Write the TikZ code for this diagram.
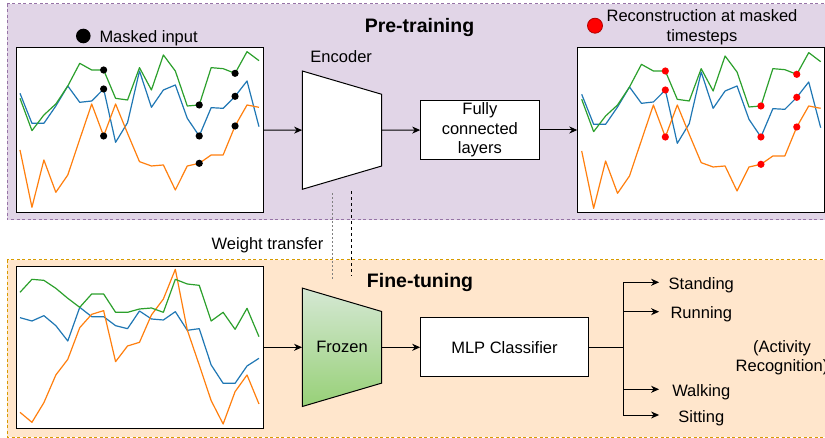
\documentclass[tikz,border=0pt]{standalone}
\usepackage{fontspec}
\setmainfont{Liberation Sans}
\usetikzlibrary{arrows.meta}

\definecolor{tsblue}{HTML}{1F77B4}
\definecolor{tsorange}{HTML}{FF7F0E}
\definecolor{tsgreen}{HTML}{2CA02C}
\definecolor{prefill}{HTML}{E1D5E7}
\definecolor{preline}{HTML}{9673A6}
\definecolor{finefill}{HTML}{FFE6CC}
\definecolor{fineline}{HTML}{D79B00}
\definecolor{frztop}{HTML}{D5E8D4}
\definecolor{frzbot}{HTML}{97D077}
\definecolor{recred}{HTML}{FF0000}

\tikzset{
  series/.style={line width=1.2pt,line join=round},
  tsbox/.style={draw,fill=white,line width=1pt,minimum width=247,minimum height=165,inner sep=0},
  block/.style={draw,fill=white,line width=1pt,align=center,inner sep=0},
  arr/.style={-{Stealth[length=8pt,width=7pt,inset=2.5pt]},line width=1pt},
  title/.style={font=\bfseries\fontsize{19.5}{23}\selectfont,anchor=base,inner sep=0},
  cls/.style={minimum width=84,inner sep=0,text height=14pt,text depth=0pt},
}

\newcommand{\tsseries}[3]{%
  \foreach \v [count=\i from 0] in #3 \coordinate (#2\i) at ({60+35.85*\i},\v);
  \draw[series,#1] (#20) \foreach \i in {1,...,20} {-- (#2\i)};}

\begin{document}
\begin{tikzpicture}[x=1pt,y=-1pt,font=\fontsize{16.5}{19.5}\selectfont]
  \useasboundingbox (0,0) rectangle (825,438);
  \def\greenA{295,392,345,312,258,190,210,210,295,300,203,270,165,213,318,315,203,206,220,155,182}
  \def\blueA{280,370,370,318,258,307,303,267,427,368,213,322,270,255,355,408,323,325,289,243,380}
  \def\orangeA{450,622,480,577,525,418,312,408,312,400,485,498,495,570,498,490,465,465,378,315,322}
  \def\greenB{127,88,91,115,145,172,132,132,187,187,177,174,187,88,102,106,213,187,238,175,260}
  \def\blueB{203,213,197,227,273,172,200,200,227,236,183,207,210,185,241,236,345,400,400,348,325}
  \def\orangeB{487,517,458,375,328,233,193,182,335,288,277,195,147,58,240,345,452,522,425,375,462}
  % stage backgrounds
  \draw[fill=prefill,draw=preline,dash pattern=on 3pt off 2.5pt,line width=1pt] (7,4) rectangle (840,220);
  \draw[fill=finefill,draw=fineline,dash pattern=on 3pt off 2.5pt,line width=1pt] (7,260) rectangle (840,437);
  \node[title] (pretitle) at (419.5,32.3) {Pre-training};
  \node[title] (finetitle) at (420,287.7) {Fine-tuning};
  % legends
  \node[circle,fill=black,minimum size=14.6,inner sep=0] (maskdot) at (83.3,36) {};
  \node[anchor=base west,inner sep=0] (masklbl) at (99.3,42.7) {Masked input};
  \node[circle,fill=recred,draw=recred!70!black,line width=0.8pt,minimum size=15,inner sep=0] (recdot) at (595,25.7) {};
  \node[align=center,inner sep=0] (reclbl) at (702,27) {Reconstruction at masked\\timesteps};
  % pre-training
  \node[tsbox] (inTS) at (140.2,130) {};
  \node[tsbox] (recTS) at (701.3,130) {};
  \draw[fill=white,line width=1pt] (302.3,71) -- (381.7,94.3) -- (381.7,166) -- (302.3,189.3) -- cycle;
  \node[minimum width=79.4,minimum height=118.3,inner sep=0] (enc) at (342,130.15) {};
  \node[anchor=base,inner sep=0] (enclbl) at (341.2,62.3) {Encoder};
  \node[block,minimum width=118.3,minimum height=59.3] (fc) at (479.85,130) {Fully\\connected\\layers};
  \draw[arr] (inTS) -- (enc);
  \draw[arr] (enc) -- (fc);
  \draw[arr] (fc) -- (recTS);
  \begin{scope}[x=0.3333pt,y=-0.3333pt]
    \tsseries{tsblue}{inB}{\blueA}
    \tsseries{tsorange}{inO}{\orangeA}
    \tsseries{tsgreen}{inG}{\greenA}
    \foreach \k in {7,15,18} {\fill (inG\k) circle (3.6pt) (inB\k) circle (3.6pt) (inO\k) circle (3.6pt);}
  \end{scope}
  \begin{scope}[shift={(561.7,1)},x=0.3333pt,y=-0.3333pt]
    \tsseries{tsblue}{recB}{\blueA}
    \tsseries{tsorange}{recO}{\orangeA}
    \tsseries{tsgreen}{recG}{\greenA}
    \foreach \k in {7,15,18} {\fill[recred] (recG\k) circle (3.6pt) (recB\k) circle (3.6pt) (recO\k) circle (3.6pt);}
  \end{scope}
  % weight transfer
  \node[anchor=base,inner sep=0] (wtlbl) at (267.5,249.3) {Weight transfer};
  % fine-tuning
  \node[tsbox,minimum height=162] (ftTS) at (139.9,347.3) {};
  \shadedraw[top color=frztop,bottom color=frzbot,line width=1pt] (302.3,288.1) -- (381.7,311.5) -- (381.7,383.1) -- (302.3,406.5) -- cycle;
  \node[minimum width=79.4,minimum height=118.4,inner sep=0] (frz) at (342,347.3) {Frozen};
  \node[block,minimum width=167.6,minimum height=59] (mlp) at (504.5,347.3) {MLP Classifier};
  \begin{scope}[shift={(0,250)},x=0.3333pt,y=-0.3333pt]
    \tsseries{tsblue}{ftB}{\blueB}
    \tsseries{tsorange}{ftO}{\orangeB}
    \tsseries{tsgreen}{ftG}{\greenB}
  \end{scope}
  \draw[dash pattern=on 2pt off 2pt,gray,line width=1pt] ([xshift=-10pt,yshift=-3.7pt]enc.south) -- ([xshift=-10pt,yshift=9pt]frz.north);
  \draw[dash pattern=on 3pt off 3pt,line width=0.9pt] ([xshift=9.7pt,yshift=-1.7pt]enc.south) -- ([xshift=9.7pt,yshift=11.4pt]frz.north);
  \draw[arr] (ftTS) -- (frz);
  \draw[arr] (frz) -- (mlp);
  \coordinate (split) at (623.3,347.3);
  \node[cls] (standing) at (701.3,282.3) {Standing};
  \node[cls] (running) at (701.3,311.7) {Running};
  \node[cls] (walking) at (701.3,389.3) {Walking};
  \node[cls] (sitting) at (701.3,415) {Sitting};
  \node[align=center,inner sep=0] (actlbl) at (782,357.5) {(Activity\\Recognition)};
  \draw[line width=1pt] (mlp) -- (split);
  \foreach \c in {standing,running,walking,sitting} \draw[arr] (split) |- (\c);
\end{tikzpicture}
\end{document}
